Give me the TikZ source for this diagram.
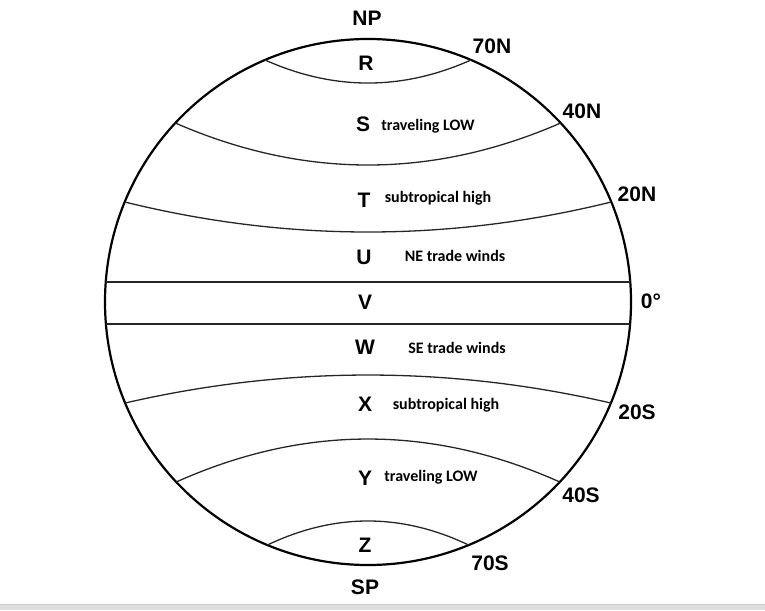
\documentclass[tikz,border=0pt]{standalone}
\usepackage{fontspec}
\setmainfont{Liberation Sans}
\newfontfamily\calib{Carlito}
\begin{document}
\begin{tikzpicture}[x=1pt,y=-1pt,
  globe/.style={line width=2.2pt},
  band/.style={line width=1.3pt, draw=black!85},
  zone/.style={font=\fontsize{21}{21}\selectfont\bfseries, inner sep=0pt, anchor=center},
  lat/.style={font=\fontsize{21}{21}\selectfont\bfseries, inner sep=0pt, anchor=center},
  desc/.style={font=\calib\bfseries\fontsize{16}{16}\selectfont, inner sep=0pt, anchor=center}]
\useasboundingbox (0,0) rectangle (765,610);
\fill[black!13] (0,604) rectangle (765,610);
\draw[black!20, line width=0.6pt] (0,604) -- (765,604);
\coordinate (c) at (368,302);
\draw[globe] (c) circle[radius=263];
% bands
\draw[band] (265,60) .. controls (333.7,90.7) and (402.3,90.7) .. (471,60);
\draw[band] (175.3,123) .. controls (303.8,179) and (432.2,179) .. (560.7,123);
\draw[band] (124.8,202) .. controls (286.9,242) and (449.1,242) .. (611.2,202);
\draw[band] (105.8,282) -- (630.2,282);
\draw[band] (105.9,324) -- (630.1,324);
\draw[band] (125.2,403) .. controls (287.1,365.7) and (448.9,365.7) .. (610.8,403);
\draw[band] (176.2,482) .. controls (304.1,424.7) and (431.9,424.7) .. (559.8,482);
\draw[band] (267.4,545) .. controls (334.5,513) and (401.5,513) .. (468.6,545);
% labels
\node[zone] (np) at (367,18) {NP};
\node[zone] (r) at (366,63) {R};
\node[zone] (s) at (363,124) {S};
\node[zone] (t) at (364,200) {T};
\node[zone] (u) at (364,257) {U};
\node[zone] (v) at (365,302) {V};
\node[zone] (w) at (365,347) {W};
\node[zone] (xx) at (365,404) {X};
\node[zone] (y) at (365,478) {Y};
\node[zone] (z) at (365,545) {Z};
\node[zone] (sp) at (365,587) {SP};
\node[lat] (l70n) at (492,46) {70N};
\node[lat] (l40n) at (582,111) {40N};
\node[lat] (l20n) at (637,194) {20N};
\node[lat] (l0) at (651,301) {0°};
\node[lat] (l20s) at (637,412) {20S};
\node[lat] (l40s) at (581,495) {40S};
\node[lat] (l70s) at (490,563) {70S};
\node[desc] (d1) at (428,126) {traveling LOW};
\node[desc] (d2) at (438,198) {subtropical high};
\node[desc] (d3) at (455,256) {NE trade winds};
\node[desc] (d4) at (457,348) {SE trade winds};
\node[desc] (d5) at (446,405) {subtropical high};
\node[desc] (d6) at (431,477) {traveling LOW};
\end{tikzpicture}
\end{document}
